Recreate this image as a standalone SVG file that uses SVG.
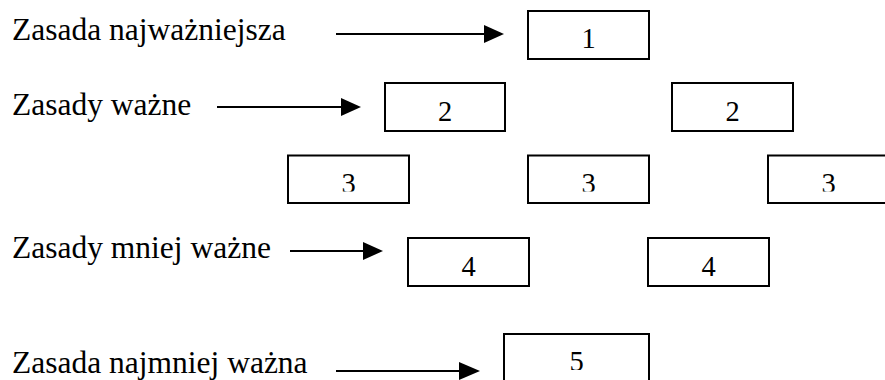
<svg xmlns="http://www.w3.org/2000/svg" width="885" height="380" viewBox="0 0 885 380">
<style>
.lbl{font-family:"Liberation Serif","Times New Roman",serif;font-size:31.5px;fill:#000}
.num{font-family:"Liberation Serif","Times New Roman",serif;font-size:28.5px;fill:#000;text-anchor:middle}
.box{fill:#fff;stroke:#000;stroke-width:2}
.arr{stroke:#000;stroke-width:2;fill:none}
</style>
<defs>
<clipPath id="c3"><rect x="0" y="0" width="885" height="191.5"/></clipPath>
<clipPath id="c5"><rect x="0" y="0" width="885" height="370"/></clipPath>
</defs>
<rect width="885" height="380" fill="#fff"/>
<g id="labels">
<text class="lbl" x="12" y="40">Zasada najważniejsza</text>
<text class="lbl" x="12" y="115">Zasady ważne</text>
<text class="lbl" x="12" y="258">Zasady mniej ważne</text>
<text class="lbl" x="12" y="373">Zasada najmniej ważna</text>
</g>
<g id="connectors">
<line class="arr" x1="336" y1="34" x2="484" y2="34"/>
<path d="M484,25 L504,34 L484,43 Z"/>
<line class="arr" x1="217" y1="107" x2="341" y2="107"/>
<path d="M341,98 L361,107 L341,116 Z"/>
<line class="arr" x1="290" y1="251" x2="363" y2="251"/>
<path d="M363,242 L383,251 L363,260 Z"/>
<line class="arr" x1="336" y1="371" x2="459" y2="371"/>
<path d="M459,362 L480,371 L459,380 Z"/>
</g>
<g id="n1"><rect class="box" x="528" y="11" width="121" height="48"/><text class="num" x="588.5" y="48">1</text></g>
<g id="n2a"><rect class="box" x="385" y="83" width="120" height="48"/><text class="num" x="445" y="120.5">2</text></g>
<g id="n2b"><rect class="box" x="672" y="83" width="121" height="48"/><text class="num" x="732.5" y="120.5">2</text></g>
<g id="n3a"><rect class="box" x="288" y="155.5" width="121" height="47.5"/><text class="num" x="348.5" y="193" clip-path="url(#c3)">3</text></g>
<g id="n3b"><rect class="box" x="528" y="155.5" width="121" height="47.5"/><text class="num" x="588.5" y="193" clip-path="url(#c3)">3</text></g>
<g id="n3c"><rect class="box" x="768" y="155.5" width="121" height="47.5"/><text class="num" x="828.5" y="193" clip-path="url(#c3)">3</text></g>
<g id="n4a"><rect class="box" x="408" y="238" width="121" height="48"/><text class="num" x="468.5" y="276">4</text></g>
<g id="n4b"><rect class="box" x="648" y="238" width="121" height="48"/><text class="num" x="708.5" y="276">4</text></g>
<g id="n5"><rect class="box" x="504" y="334" width="145" height="60"/><text class="num" x="576.5" y="371" clip-path="url(#c5)">5</text></g>
</svg>
